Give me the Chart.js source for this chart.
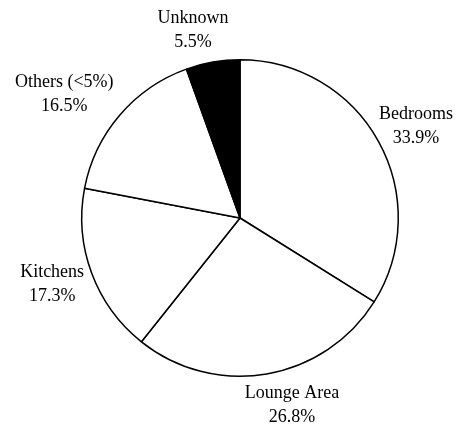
<!DOCTYPE html>
<html lang="en">
<head>
  <meta charset="UTF-8" />
  <title>Pie chart</title>
  <script src="https://cdn.jsdelivr.net/npm/chart.js"></script>
  <style>
    html, body { margin: 0; padding: 0; background: #fff; }
    #wrap { width: 458px; height: 426px; position: relative; }
  </style>
</head>
<body>
  <div id="wrap"><canvas id="pieChart"></canvas></div>

  <script>
    const categories = ['Bedrooms', 'Lounge Area', 'Kitchens', 'Others (<5%)', 'Unknown'];
    const shares = [33.9, 26.8, 17.3, 16.5, 5.5];
    const fills = ['#ffffff', '#ffffff', '#ffffff', '#ffffff', '#000000'];

    // labels outside each slice: the label box sits just past the rim,
    // pushed outward by (about) half its own size, kept inside the canvas
    const outsideLabels = {
      id: 'outsideLabels',
      afterDatasetsDraw(chart) {
        const ctx = chart.ctx;
        const arcs = chart.getDatasetMeta(0).data;
        const lineH = 24;
        ctx.save();
        ctx.fillStyle = '#000';
        ctx.font = '18px "Liberation Serif", "Times New Roman", serif';
        ctx.textAlign = 'center';
        ctx.textBaseline = 'middle';
        arcs.forEach((arc, i) => {
          const mid = (arc.startAngle + arc.endAngle) / 2;
          const ux = Math.cos(mid), uy = Math.sin(mid);
          const name = categories[i];
          const pct = shares[i].toFixed(1) + '%';
          const w = Math.max(ctx.measureText(name).width, ctx.measureText(pct).width);
          const h = lineH * 2;
          const r = arc.outerRadius + 8;
          const sx = Math.max(-1, Math.min(1, ux * 3));
          let x = arc.x + ux * r + sx * w / 2;
          x = Math.min(x, chart.width - 5 - w / 2);
          x = Math.max(x, 5 + w / 2);
          const y = arc.y + uy * r + uy * h / 2;
          ctx.fillText(name, x, y - lineH / 2);
          ctx.fillText(pct, x, y + lineH / 2);
        });
        ctx.restore();
      }
    };

    new Chart(document.getElementById('pieChart'), {
      type: 'pie',
      data: {
        labels: categories,
        datasets: [{
          data: shares,
          backgroundColor: fills,
          borderColor: '#000',
          borderWidth: 1.5
        }]
      },
      options: {
        responsive: true,
        maintainAspectRatio: false,
        animation: false,
        layout: { padding: { left: 81, right: 59, top: 59, bottom: 49 } },
        plugins: {
          legend: { display: false },
          tooltip: { enabled: false }
        }
      },
      plugins: [outsideLabels]
    });
  </script>
</body>
</html>
